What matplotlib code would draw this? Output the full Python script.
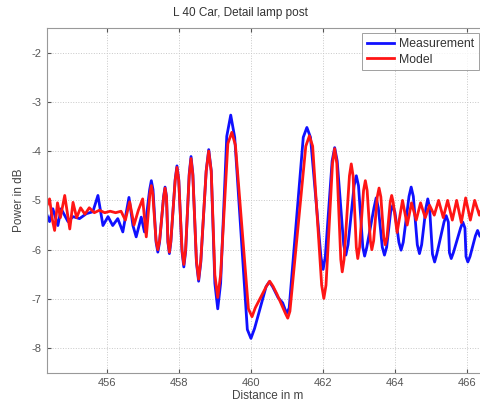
import matplotlib
matplotlib.use("Agg")
import matplotlib.pyplot as plt

# Measurement (blue)
meas_x = [454.35, 454.42, 454.51, 454.65, 454.74, 454.93, 455.07, 455.25, 455.44, 455.62,
          455.76, 455.90, 456.04, 456.17, 456.31, 456.45, 456.62, 456.73, 456.82, 456.96,
          457.05,
          457.194, 457.24, 457.286, 457.372, 457.42, 457.468, 457.58, 457.62, 457.66,
          457.70, 457.74, 457.78, 457.90, 457.95, 458.00, 458.09, 458.14, 458.19,
          458.29, 458.34, 458.39, 458.49, 458.55, 458.61, 458.76, 458.83, 458.90,
          459.00, 459.08, 459.16, 459.33, 459.44, 459.55, 459.90, 460.00, 460.10,
          460.42, 460.51, 460.60, 460.75, 460.88, 460.95, 461.00, 461.06,
          461.45, 461.55, 461.65, 461.94, 462.00, 462.06, 462.25, 462.32, 462.39,
          462.57, 462.63, 462.69, 462.86, 462.92, 462.98, 463.10, 463.15, 463.21,
          463.41, 463.47, 463.53, 463.64, 463.70, 463.76, 463.87, 463.93, 463.99,
          464.10, 464.16, 464.22, 464.38, 464.44, 464.50, 464.61, 464.67, 464.73,
          464.85, 464.90, 464.95, 465.03, 465.09, 465.15, 465.35, 465.41, 465.47,
          465.50, 465.55, 465.61, 465.81, 465.87, 465.93, 465.96, 466.01, 466.07,
          466.22, 466.28, 466.34, 466.60]
meas_y = [-5.30, -5.43, -5.17, -5.51, -5.17, -5.43, -5.33, -5.37, -5.27, -5.23,
          -4.90, -5.51, -5.33, -5.51, -5.37, -5.64, -4.94, -5.51, -5.74, -5.34,
          -5.64,
          -4.78, -4.60, -4.78, -5.85, -6.05, -5.85, -4.92, -4.73, -4.92,
          -5.85, -6.08, -5.85, -4.58, -4.30, -4.58, -6.04, -6.35, -6.04,
          -4.46, -4.11, -4.46, -6.26, -6.64, -6.26, -4.40, -3.97, -4.40,
          -6.68, -7.20, -6.68, -3.70, -3.27, -3.72, -7.62, -7.80, -7.60,
          -6.75, -6.65, -6.75, -6.97, -7.08, -7.22, -7.28, -7.18,
          -3.72, -3.52, -3.72, -6.15, -6.40, -6.15, -4.20, -3.93, -4.20,
          -5.90, -6.11, -5.90, -4.70, -4.50, -4.70, -5.95, -6.13, -5.95,
          -5.15, -4.95, -5.15, -5.95, -6.11, -5.95, -5.24, -5.10, -5.24,
          -5.85, -6.01, -5.85, -4.92, -4.73, -4.92, -5.90, -6.08, -5.90,
          -5.15, -4.97, -5.15, -6.09, -6.25, -6.09, -5.44, -5.31, -5.44,
          -6.06, -6.18, -6.06, -5.56, -5.44, -5.56, -6.14, -6.25, -6.14,
          -5.72, -5.61, -5.72, -5.90]

# Model (red)
model_x = [454.35, 454.42, 454.50, 454.56, 454.64, 454.72, 454.84, 454.98, 455.07, 455.17,
           455.28, 455.40, 455.52, 455.66, 455.80, 455.95, 456.10, 456.25, 456.40, 456.52,
           456.64, 456.76, 456.88, 457.00, 457.10,
           457.20, 457.24, 457.28, 457.37, 457.42, 457.47, 457.58, 457.62, 457.66,
           457.70, 457.74, 457.78, 457.90, 457.95, 458.00, 458.09, 458.14, 458.19,
           458.29, 458.34, 458.39, 458.49, 458.55, 458.61, 458.76, 458.83, 458.90,
           459.00, 459.08, 459.16, 459.36, 459.47, 459.57, 459.93, 460.03, 460.12,
           460.43, 460.52, 460.61, 460.72, 460.96, 461.02, 461.08,
           461.52, 461.62, 461.71, 461.96, 462.02, 462.08, 462.26, 462.32, 462.38,
           462.49, 462.53, 462.58, 462.73, 462.78, 462.83, 462.92, 462.96, 463.01,
           463.12, 463.17, 463.22, 463.31, 463.35, 463.40, 463.50, 463.55, 463.60,
           463.68, 463.72, 463.77, 463.86, 463.90, 463.94,
           464.05, 464.20, 464.33, 464.45, 464.58, 464.70, 464.83,
           464.95, 465.08, 465.20, 465.33, 465.45, 465.58, 465.70, 465.83, 465.95, 466.08,
           466.20, 466.33, 466.45, 466.60]
model_y = [-5.10, -4.97, -5.40, -5.61, -5.05, -5.35, -4.90, -5.58, -5.04, -5.35,
           -5.15, -5.28, -5.15, -5.25, -5.20, -5.25, -5.22, -5.25, -5.22, -5.40,
           -5.03, -5.50, -5.20, -4.97, -5.74,
           -4.87, -4.70, -4.87, -5.81, -6.00, -5.81, -4.94, -4.75, -4.94,
           -5.83, -6.05, -5.83, -4.60, -4.33, -4.60, -6.00, -6.30, -6.00,
           -4.49, -4.15, -4.49, -6.23, -6.60, -6.23, -4.41, -4.00, -4.41,
           -6.51, -6.97, -6.51, -3.85, -3.62, -3.88, -7.20, -7.36, -7.18,
           -6.74, -6.64, -6.74, -6.90, -7.30, -7.39, -7.25,
           -3.90, -3.69, -3.90, -6.72, -6.99, -6.72, -4.25, -3.95, -4.25,
           -6.20, -6.45, -6.20, -4.50, -4.26, -4.50, -5.95, -6.18, -5.95,
           -4.80, -4.60, -4.80, -5.82, -6.00, -5.82, -4.93, -4.75, -4.93,
           -5.75, -5.90, -5.75, -5.03, -4.90, -5.03,
           -5.65, -5.00, -5.50, -5.05, -5.40, -5.05, -5.35,
           -5.10, -5.30, -5.00, -5.35, -5.00, -5.40, -5.00, -5.45, -4.95, -5.40,
           -5.00, -5.30, -5.05, -5.25]

x_ticks = [456, 458, 460, 462, 464, 466]
y_ticks = [-2, -3, -4, -5, -6, -7, -8]

title = "L 40 Car, Detail lamp post"
xlabel = "Distance in m"
ylabel = "Power in dB"

plt.rcParams["font.family"] = ["Liberation Sans", "DejaVu Sans"]
plt.rcParams["axes.unicode_minus"] = False

fig = plt.figure(figsize=(4.8, 4.04), dpi=100)
ax = fig.add_axes([0.098, 0.077, 0.921, 0.854])

ax.plot(meas_x, meas_y, color="#1010ff", lw=2.0, label="Measurement")
ax.plot(model_x, model_y, color="#ff1515", lw=2.0, label="Model")

ax.set_xlim(454.35, 466.6)
ax.set_ylim(-8.5, -1.5)
ax.set_xticks(x_ticks)
ax.set_yticks(y_ticks)
ax.grid(True, linestyle=":", color="#c8c8c8", linewidth=0.7)
ax.tick_params(direction="in", top=True, right=True, labelsize=8,
               colors="#555555", length=3, pad=4)
for s in ax.spines.values():
    s.set_color("#999999")
    s.set_linewidth(0.8)

fig.text(0.5, 0.968, title, ha="center", va="center", fontsize=8.5, color="#333333")
ax.set_xlabel(xlabel, fontsize=8.5, color="#444444", labelpad=1)
ax.set_ylabel(ylabel, fontsize=8.5, color="#444444", labelpad=5)

leg = ax.legend(loc="upper left", bbox_to_anchor=(362 / 480, 1 - 33 / 404),
                bbox_transform=fig.transFigure, fontsize=8.8, frameon=True,
                fancybox=False, edgecolor="#888888", handlelength=2.2,
                borderpad=0.4, labelspacing=0.3, handletextpad=0.4,
                borderaxespad=0.0)
leg.get_frame().set_linewidth(0.7)
for t in leg.get_texts():
    t.set_color("#333333")

fig.savefig("out.png", dpi=100, facecolor="white")
